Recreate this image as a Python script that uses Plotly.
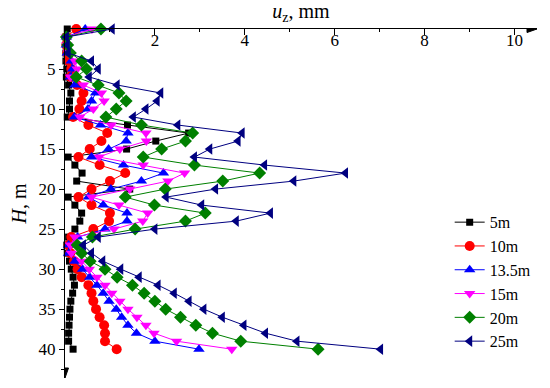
import plotly.graph_objects as go

depth = list(range(0, 41))

names = ["5m", "10m", "13.5m", "15m", "20m", "25m"]

uz_5m = [0.05, 0.02, 0.02, 0.02, 0.02, 0.04, 0.03, 0.08, 0.13, 0.10, 0.10, 0.05, 1.39, 2.75, 2.02, 1.37,
         0.07, 0.22, 0.38, 0.26, 1.44, 0.07, 0.22, 0.37, 0.33, 0.22, 0.08, 0.04, 0.05, 0.10, 0.14,
         0.18, 0.21, 0.17, 0.13, 0.11, 0.10, 0.09, 0.08, 0.08, 0.18]
uz_10m = [0.25, 0.03, 0.03, 0.05, 0.08, 0.14, 0.12, 0.27, 0.41, 0.37, 0.32, 0.18, 0.52, 0.94, 0.81, 0.55,
          0.30, 0.77, 1.34, 1.00, 0.59, 0.30, 0.59, 1.00, 0.98, 0.63, 0.14, 0.08, 0.12, 0.20, 0.28,
          0.37, 0.52, 0.59, 0.63, 0.69, 0.77, 0.87, 0.89, 0.89, 1.15]
uz_13_5m = [0.45, 0.03, 0.03, 0.05, 0.14, 0.17, 0.12, 0.22, 0.68, 0.59, 0.51, 0.21, 0.79, 1.40, 1.36, 0.97,
            0.59, 1.30, 2.19, 1.70, 1.02, 0.52, 0.85, 1.38, 1.38, 0.89, 0.28, 0.08, 0.08, 0.22, 0.39,
            0.55, 0.71, 0.85, 0.98, 1.14, 1.26, 1.40, 1.59, 2.00, 2.98]
uz_15m = [0.60, 0.03, 0.04, 0.08, 0.22, 0.27, 0.12, 0.41, 0.81, 0.87, 0.63, 0.33, 1.03, 1.80, 1.81, 1.22,
          0.76, 1.74, 2.66, 2.29, 1.44, 0.59, 1.20, 1.84, 1.73, 1.09, 0.22, 0.12, 0.14, 0.37, 0.54,
          0.71, 0.89, 1.04, 1.22, 1.40, 1.60, 1.80, 1.98, 2.48, 3.71]
uz_20m = [0.80, 0.03, 0.06, 0.12, 0.37, 0.48, 0.25, 0.74, 1.20, 1.36, 1.14, 0.91, 1.70, 2.84, 2.68, 2.15,
          1.74, 2.88, 4.33, 3.51, 2.23, 1.34, 1.99, 3.12, 2.68, 1.56, 0.61, 0.27, 0.37, 0.56, 0.89,
          1.16, 1.50, 1.76, 2.00, 2.24, 2.57, 2.91, 3.28, 3.91, 5.63]
uz_25m = [1.05, 0.03, 0.05, 0.07, 0.59, 0.74, 0.54, 1.16, 2.13, 2.05, 1.80, 1.52, 2.51, 3.94, 3.85, 3.22,
          2.88, 4.44, 6.24, 5.09, 3.35, 2.25, 3.04, 4.57, 3.81, 2.00, 0.74, 0.41, 0.59, 0.84, 1.24,
          1.65, 2.07, 2.43, 2.76, 3.09, 3.50, 3.98, 4.46, 5.16, 7.02]

series = [uz_5m, uz_10m, uz_13_5m, uz_15m, uz_20m, uz_25m]
colors = ["#000000", "#FF0000", "#0000FF", "#FF00FF", "#008000", "#000080"]
symbols = ["square", "circle", "triangle-up", "triangle-down", "diamond", "triangle-left"]
sizes = [7, 10, 10, 10, 10, 10]

x_ticks = [2, 4, 6, 8, 10]
y_ticks = [0, 5, 10, 15, 20, 25, 30, 35, 40]

font_family = "Liberation Serif"

fig = go.Figure()
for name, vals, col, sym, sz in zip(names, series, colors, symbols, sizes):
    fig.add_trace(go.Scatter(
        x=vals, y=depth, name=name, mode="lines+markers",
        line=dict(color=col, width=1),
        marker=dict(symbol=sym, size=sz, color=col),
        cliponaxis=False,
    ))

fig.update_xaxes(
    range=[0, 10.5], side="top", showgrid=False, zeroline=False, automargin=False,
    showline=True, linecolor="black", linewidth=1,
    tickvals=x_ticks, ticks="inside", ticklen=6, tickcolor="black",
    ticklabelposition="inside", tickfont=dict(family=font_family, size=17, color="black"),
    minor=dict(tickvals=[1, 3, 5, 7, 9], ticks="inside", ticklen=3, tickcolor="black"),
    title=dict(text="<i>u</i><sub>z</sub>, mm", font=dict(family=font_family, size=20, color="black"),
               standoff=7),
)
fig.update_yaxes(
    range=[43.6, 0], showgrid=False, zeroline=False, automargin=False,
    showline=True, linecolor="black", linewidth=1,
    tickvals=y_ticks, ticks="outside", ticklen=5, tickcolor="black",
    tickfont=dict(family=font_family, size=17, color="black"),
    minor=dict(tickvals=[2.5, 7.5, 12.5, 17.5, 22.5, 27.5, 32.5, 37.5, 42.5], ticks="outside",
               ticklen=3, tickcolor="black"),
    title=dict(text="<i>H</i>, m", font=dict(family=font_family, size=20, color="black"), standoff=6),
)

# arrowheads at the ends of both axes
fig.add_shape(type="path", xref="x", yref="y", xsizemode="pixel", ysizemode="pixel",
              xanchor=10.5, yanchor=0, path="M 0 0 L -10 -3.5 L -10 3.5 Z",
              fillcolor="black", line=dict(color="black", width=1))
fig.add_shape(type="path", xref="x", yref="y", xsizemode="pixel", ysizemode="pixel",
              xanchor=0, yanchor=43.6, path="M 0 0 L -3.5 10 L 3.5 10 Z",
              fillcolor="black", line=dict(color="black", width=1))

fig.update_layout(
    width=550, height=388,
    margin=dict(l=65, r=13, t=29, b=10),
    paper_bgcolor="white", plot_bgcolor="white",
    font=dict(family=font_family, color="black"),
    showlegend=True,
    legend=dict(x=0.815, y=0.495, xanchor="left", yanchor="top",
                font=dict(family=font_family, size=16, color="black"),
                bgcolor="rgba(0,0,0,0)", tracegroupgap=0),
)

fig.write_html("out.html", config={"displayModeBar": False},
               post_script="document.body.style.margin='0px';")
